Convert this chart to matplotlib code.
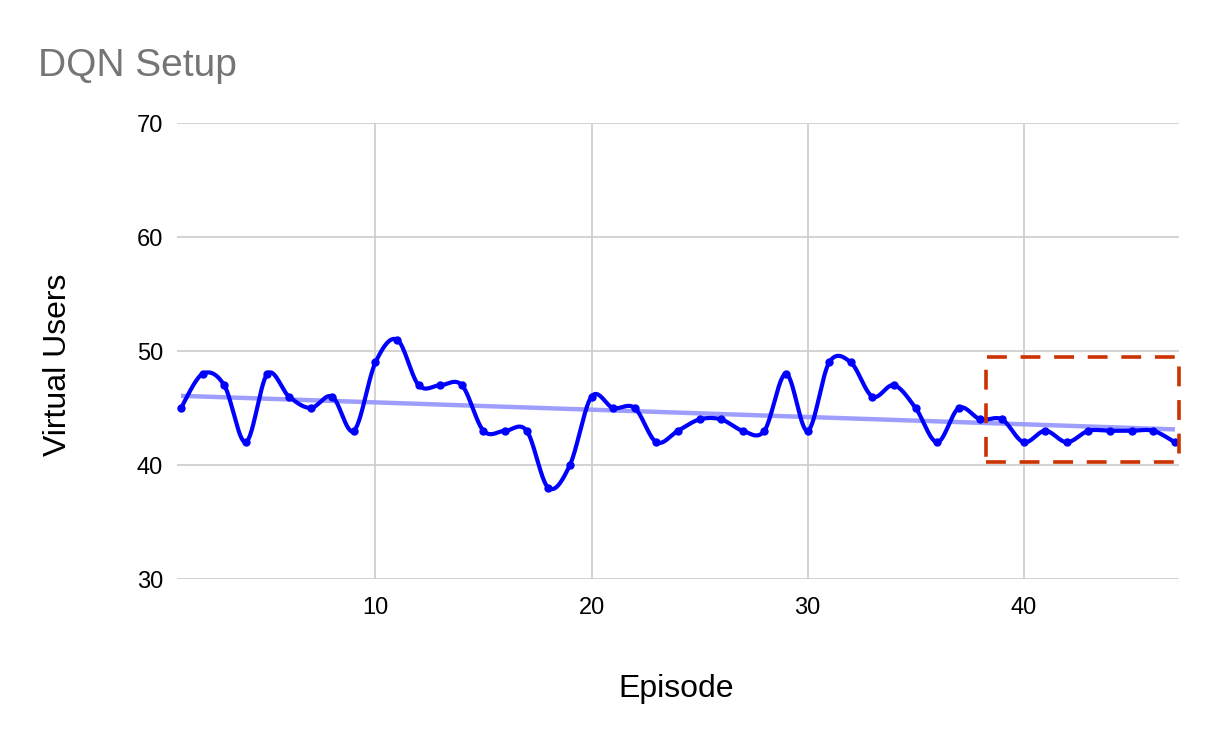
import numpy as np
import matplotlib
matplotlib.use("Agg")
import matplotlib.pyplot as plt
from matplotlib.patches import Rectangle

plt.rcParams['font.family'] = ['Liberation Sans', 'DejaVu Sans']

episodes = list(range(1, 48))
virtual_users = [45, 48, 47, 42, 48, 46, 45, 46, 43, 49,
                 51, 47, 47, 47, 43, 43, 43, 38, 40, 46,
                 45, 45, 42, 43, 44, 44, 43, 43, 48, 43,
                 49, 49, 46, 47, 45, 42, 45, 44, 44, 42,
                 43, 42, 43, 43, 43, 43, 42]
x_ticks = [10, 20, 30, 40]
y_ticks = [30, 40, 50, 60, 70]
title = "DQN Setup"
x_label = "Episode"
y_label = "Virtual Users"


def catmull_rom(x, y, n=30):
    x = np.asarray(x, float)
    y = np.asarray(y, float)
    xs, ys = [], []
    N = len(x)
    for i in range(N - 1):
        p0 = (x[max(i - 1, 0)], y[max(i - 1, 0)])
        p1 = (x[i], y[i])
        p2 = (x[i + 1], y[i + 1])
        p3 = (x[min(i + 2, N - 1)], y[min(i + 2, N - 1)])
        t = 1 / 6
        c1 = (p1[0] + (p2[0] - p0[0]) * t, p1[1] + (p2[1] - p0[1]) * t)
        c2 = (p2[0] - (p3[0] - p1[0]) * t, p2[1] - (p3[1] - p1[1]) * t)
        s = np.linspace(0, 1, n, endpoint=(i == N - 2))
        bx = (1 - s) ** 3 * p1[0] + 3 * (1 - s) ** 2 * s * c1[0] + 3 * (1 - s) * s ** 2 * c2[0] + s ** 3 * p2[0]
        by = (1 - s) ** 3 * p1[1] + 3 * (1 - s) ** 2 * s * c1[1] + 3 * (1 - s) * s ** 2 * c2[1] + s ** 3 * p2[1]
        xs.append(bx)
        ys.append(by)
    return np.concatenate(xs), np.concatenate(ys)


fig = plt.figure(figsize=(12.16, 7.42), dpi=100)
ax = fig.add_axes([177 / 1216, 1 - 579 / 742, (1179 - 177) / 1216, (579 - 123) / 742])

ax.set_xlim(0.815, 47.19)
ax.set_ylim(30, 70)
ax.set_xticks(x_ticks)
ax.set_yticks(y_ticks)
ax.grid(True, color='#cccccc', linewidth=1.2)
ax.set_axisbelow(True)
for s in ax.spines.values():
    s.set_visible(False)
ax.tick_params(length=0, labelsize=17, pad=10, colors='black')
ax.tick_params(axis='x', pad=13)

# trendline
coef = np.polyfit(episodes, virtual_users, 1)
tx = np.array([episodes[0], episodes[-1]])
ax.plot(tx, np.polyval(coef, tx), color='#9999ff', linewidth=3.2, alpha=0.95, solid_capstyle='butt', zorder=2)

sx, sy = catmull_rom(episodes, virtual_users)
ax.plot(sx, sy, color='#0000ff', linewidth=3, zorder=3)
ax.plot(episodes, virtual_users, 'o', color='#0000ff', markersize=5, zorder=4, clip_on=False)

rect = Rectangle((38.27, 40.26), 47.2 - 38.27, 49.47 - 40.26, fill=False,
                 edgecolor='#cc3300', linewidth=2.6, linestyle=(0, (5.5, 3.8)), clip_on=False, zorder=5)
ax.add_patch(rect)

fig.text(38 / 1216, 1 - 76 / 742, title, fontsize=28, color='#757575', ha='left', va='baseline')
fig.text(676 / 1216, 1 - 697 / 742, x_label, fontsize=23, ha='center', va='baseline')
fig.text(58 / 1216, 1 - 365 / 742, y_label, fontsize=23, ha='center', va='center', rotation=90)

fig.savefig('out.png', dpi=100)
